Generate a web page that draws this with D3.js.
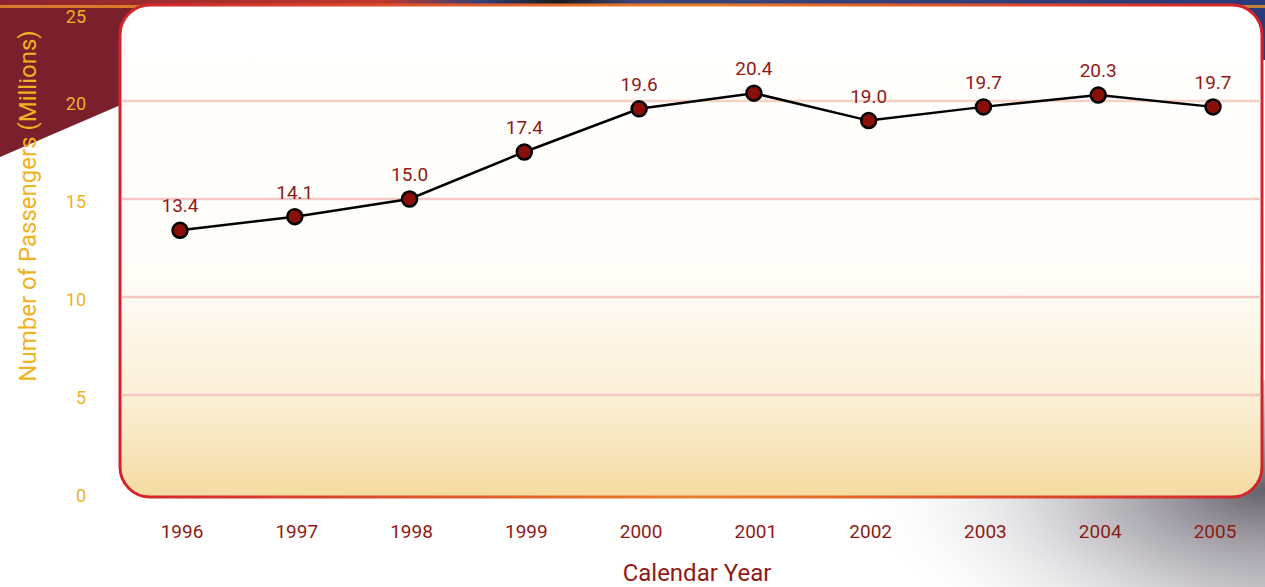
<!DOCTYPE html>
<html>
<head>
<meta charset="utf-8">
<script src="https://cdn.jsdelivr.net/npm/d3@7"></script>
<style>
  body { margin: 0; background: #fff; overflow: hidden; }
  text { font-family: Roboto, "Open Sans", sans-serif; }
</style>
</head>
<body>
<script>
const years = ["1996","1997","1998","1999","2000","2001","2002","2003","2004","2005"];
const passengers = [13.4, 14.1, 15.0, 17.4, 19.6, 20.4, 19.0, 19.7, 20.3, 19.7];
const yTicks = [0, 5, 10, 15, 20, 25];
const gridTicks = [5, 10, 15, 20];

const W = 1265, H = 587;
const box = {left: 120, right: 1262, top: 5, bottom: 497};

const svg = d3.select("body").append("svg")
  .attr("width", W).attr("height", H);

const defs = svg.append("defs");

// plot area fill
const fillGrad = defs.append("linearGradient").attr("id","boxFill")
  .attr("x1",0).attr("y1",0).attr("x2",0).attr("y2",1);
fillGrad.append("stop").attr("offset","0%").attr("stop-color","#ffffff");
fillGrad.append("stop").attr("offset","55%").attr("stop-color","#fffdf8");
fillGrad.append("stop").attr("offset","80%").attr("stop-color","#fbefd6");
fillGrad.append("stop").attr("offset","100%").attr("stop-color","#f4dba0");

// border: red on sides, orange at bottom middle
const edgeGrad = defs.append("linearGradient").attr("id","boxEdge")
  .attr("x1",0).attr("y1",0).attr("x2",1).attr("y2",0);
edgeGrad.append("stop").attr("offset","0%").attr("stop-color","#d3222c");
edgeGrad.append("stop").attr("offset","50%").attr("stop-color","#e8802a");
edgeGrad.append("stop").attr("offset","100%").attr("stop-color","#d3222c");

const topGrad = defs.append("linearGradient").attr("id","topBand")
  .attr("x1",0).attr("y1",0).attr("x2",1).attr("y2",0);
topGrad.append("stop").attr("offset","0%").attr("stop-color","#8a2330");
topGrad.append("stop").attr("offset","30%").attr("stop-color","#c0392b");
topGrad.append("stop").attr("offset","38%").attr("stop-color","#35407a");
topGrad.append("stop").attr("offset","44%").attr("stop-color","#1a1a1a");
topGrad.append("stop").attr("offset","50%").attr("stop-color","#3a4478");
topGrad.append("stop").attr("offset","100%").attr("stop-color","#2b3a78");

const greyGrad = defs.append("radialGradient").attr("id","greyShade")
  .attr("cx", 1265).attr("cy", 490).attr("r", 420)
  .attr("gradientUnits","userSpaceOnUse")
  .attr("gradientTransform", "translate(1265,490) scale(1,0.45) translate(-1265,-490)");
greyGrad.append("stop").attr("offset","0%").attr("stop-color","#5e5964").attr("stop-opacity",0.95);
greyGrad.append("stop").attr("offset","40%").attr("stop-color","#9a96a0").attr("stop-opacity",0.6);
greyGrad.append("stop").attr("offset","100%").attr("stop-color","#ffffff").attr("stop-opacity",0);

const greyGrad2 = defs.append("radialGradient").attr("id","greyShade2")
  .attr("cx", 1265).attr("cy", 600).attr("r", 360)
  .attr("gradientUnits","userSpaceOnUse");
greyGrad2.append("stop").attr("offset","0%").attr("stop-color","#c4c2c8").attr("stop-opacity",0.8);
greyGrad2.append("stop").attr("offset","100%").attr("stop-color","#ffffff").attr("stop-opacity",0);

// background decoration
svg.append("rect").attr("x",0).attr("y",0).attr("width",W).attr("height",H).attr("fill","#fff");
svg.append("rect").attr("x",700).attr("y",380).attr("width",W-700).attr("height",H-380)
  .attr("fill","url(#greyShade2)");
svg.append("rect").attr("x",700).attr("y",380).attr("width",W-700).attr("height",H-380)
  .attr("fill","url(#greyShade)");
svg.append("path").attr("d","M0,0 L160,0 L160,88 L0,157 Z").attr("fill","#7b1f2c");
svg.append("rect").attr("x",1150).attr("y",0).attr("width",115).attr("height",60).attr("fill","#2b3a78");
svg.append("rect").attr("x",0).attr("y",0).attr("width",W).attr("height",8).attr("fill","url(#topBand)");
svg.append("rect").attr("x",0).attr("y",5).attr("width",W).attr("height",3).attr("fill","#e8902a").attr("opacity",0.8);

const x = d3.scalePoint()
  .domain(years)
  .range([180, 1213]);

const y = d3.scaleLinear()
  .domain([0, 25])
  .range([493, 3]);

// plot box
svg.append("rect")
  .attr("x", box.left).attr("y", box.top)
  .attr("width", box.right - box.left).attr("height", box.bottom - box.top)
  .attr("rx", 30).attr("ry", 30)
  .attr("fill", "url(#boxFill)")
  .attr("stroke", "url(#boxEdge)")
  .attr("stroke-width", 3);

// gridlines
svg.append("g").selectAll("line")
  .data(gridTicks)
  .enter().append("line")
    .attr("x1", box.left + 1.5).attr("x2", box.right - 1.5)
    .attr("y1", d => y(d)).attr("y2", d => y(d))
    .attr("stroke", d => d === 20 ? "#f6d2c4" : "#f4c6c4")
    .attr("stroke-width", 2.5);

// y tick labels
svg.append("g").selectAll("text")
  .data(yTicks)
  .enter().append("text")
    .attr("x", 86)
    .attr("y", d => Math.max(y(d) + 3, 17))
    .attr("dy", "0.35em")
    .attr("text-anchor", "end")
    .attr("fill", "#efb222")
    .style("font-size", "18px")
    .text(d => d);

// y title
svg.append("text")
  .attr("transform", "translate(36,206) rotate(-90)")
  .attr("text-anchor", "middle")
  .attr("fill", "#efb222")
  .style("font-size", "24px")
  .text("Number of Passengers (Millions)");

// x labels
svg.append("g").selectAll("text")
  .data(years)
  .enter().append("text")
    .attr("x", d => x(d) + 2)
    .attr("y", 538)
    .attr("text-anchor", "middle")
    .attr("fill", "#8e1a16")
    .style("font-size", "19px")
    .text(d => d);

svg.append("text")
  .attr("x", 697).attr("y", 581)
  .attr("text-anchor", "middle")
  .attr("fill", "#8e1a16")
  .style("font-size", "24px")
  .text("Calendar Year");

// line
const line = d3.line()
  .x((d, i) => x(years[i]))
  .y(d => y(d));

svg.append("path")
  .datum(passengers)
  .attr("d", line)
  .attr("fill", "none")
  .attr("stroke", "#000")
  .attr("stroke-width", 2.5);

svg.append("g").selectAll("circle")
  .data(passengers)
  .enter().append("circle")
    .attr("cx", (d, i) => x(years[i]))
    .attr("cy", d => y(d))
    .attr("r", 7.5)
    .attr("fill", "#8a0f08")
    .attr("stroke", "#000")
    .attr("stroke-width", 2.5);

svg.append("g").selectAll("text")
  .data(passengers)
  .enter().append("text")
    .attr("x", (d, i) => x(years[i]))
    .attr("y", d => y(d) - 18)
    .attr("text-anchor", "middle")
    .attr("fill", "#8e1a16")
    .style("font-size", "19px")
    .text(d => d.toFixed(1));
</script>
</body>
</html>
